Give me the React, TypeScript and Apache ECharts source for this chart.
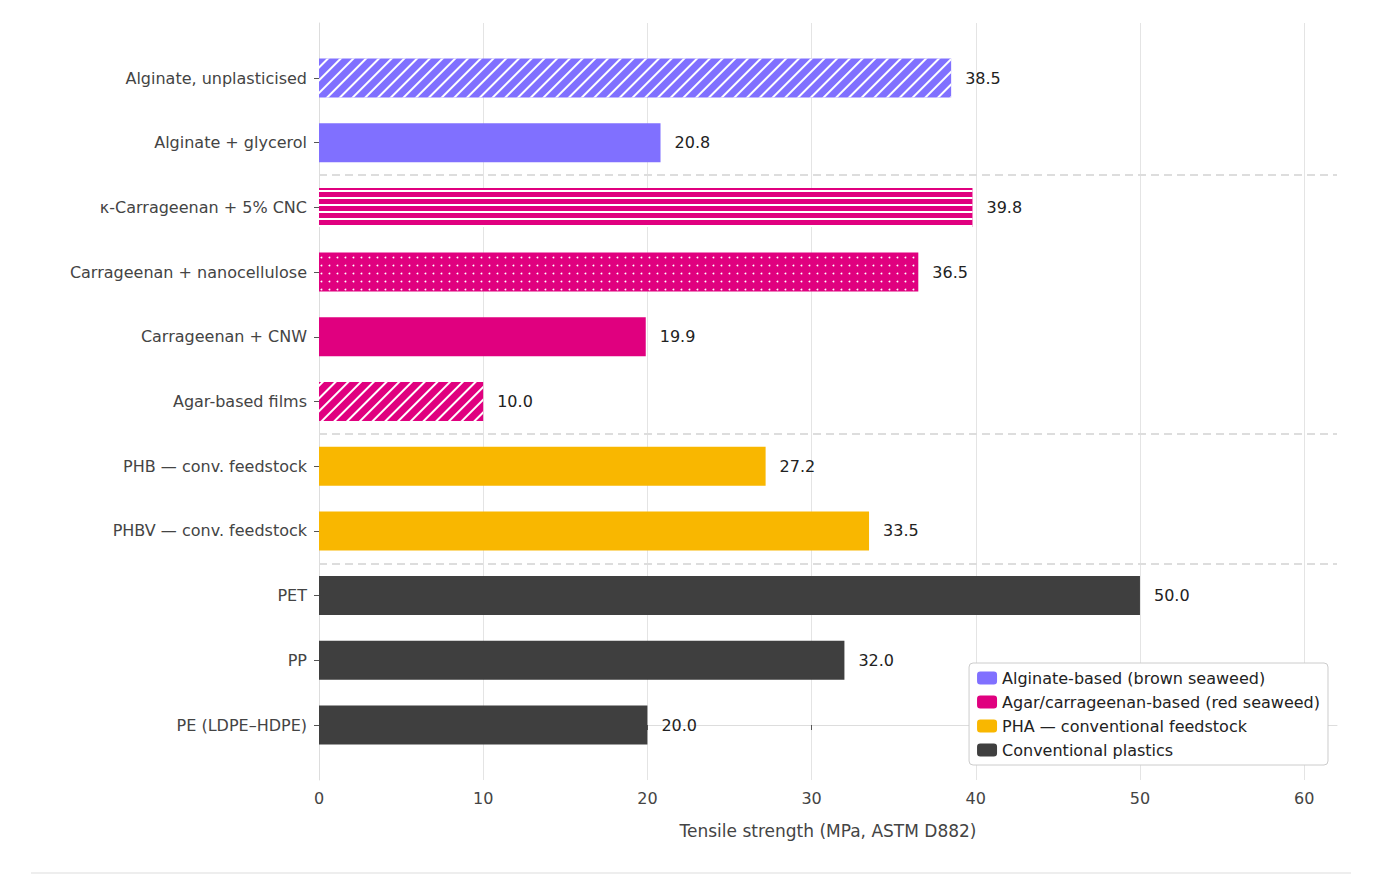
import { useEffect, useRef } from "react";
import * as echarts from "echarts";

// bottom-to-top order (index 0 = PE)
const categories = [
  "PE (LDPE–HDPE)",
  "PP",
  "PET",
  "PHBV — conv. feedstock",
  "PHB — conv. feedstock",
  "Agar-based films",
  "Carrageenan + CNW",
  "Carrageenan + nanocellulose",
  "κ-Carrageenan + 5% CNC",
  "Alginate + glycerol",
  "Alginate, unplasticised",
];
const alginateValues: Array<[number, number, string]> = [
  [38.5, 10, "hatch"],
  [20.8, 9, "none"],
];
const redValues: Array<[number, number, string]> = [
  [39.8, 8, "lines"],
  [36.5, 7, "dots"],
  [19.9, 6, "none"],
  [10.0, 5, "hatch"],
];
const phaValues: Array<[number, number, string]> = [
  [27.2, 4, "none"],
  [33.5, 3, "none"],
];
const plasticValues: Array<[number, number, string]> = [
  [50.0, 2, "none"],
  [32.0, 1, "none"],
  [20.0, 0, "none"],
];
const groupNames = [
  "Alginate-based (brown seaweed)",
  "Agar/carrageenan-based (red seaweed)",
  "PHA — conventional feedstock",
  "Conventional plastics",
];
const groupColors = ["#8070FF", "#E0007F", "#F9B700", "#3F3F3F"];
const separators = [8.5, 4.5, 2.5];
const xTicks = [0, 10, 20, 30, 40, 50, 60];

const decals: Record<string, object | undefined> = {
  none: undefined,
  hatch: {
    symbol: "rect",
    color: "#ffffff",
    dashArrayX: [1, 0],
    dashArrayY: [2, 7],
    rotation: -Math.PI / 4,
  },
  lines: {
    symbol: "rect",
    color: "#ffffff",
    dashArrayX: [1, 0],
    dashArrayY: [2, 5],
    rotation: 0,
  },
  dots: {
    symbol: "circle",
    color: "#ffffff",
    symbolSize: 0.6,
    dashArrayX: [3, 5],
    dashArrayY: [3, 5],
    rotation: 0,
  },
};

const FONT = "DejaVu Sans";

export default function App() {
  const ref = useRef<HTMLDivElement | null>(null);

  useEffect(() => {
    const el = ref.current;
    if (el === null) return;
    const chart = echarts.init(el, null, { renderer: "svg" });
    const groups = [alginateValues, redValues, phaValues, plasticValues];

    const barSeries = groups.map((g, gi) => {
      const data: Array<unknown> = categories.map(() => "-");
      g.forEach(([v, idx, pat]) => {
        data[idx] = {
          value: v,
          itemStyle: decals[pat] ? { decal: decals[pat] } : {},
        };
      });
      return {
        name: groupNames[gi],
        type: "bar",
        xAxisIndex: 0,
        yAxisIndex: 0,
        barWidth: 39,
        barGap: "-100%",
        color: groupColors[gi],
        itemStyle: { color: groupColors[gi] },
        label: {
          show: true,
          position: "right",
          distance: 14,
          fontSize: 16,
          color: "#222",
          fontFamily: FONT,
          formatter: (p: { value: number }) => Number(p.value).toFixed(1),
        },
        data,
      };
    });

    chart.setOption({
      animation: false,
      textStyle: { fontFamily: FONT },
      grid: [
        { left: 311, right: 51, top: 37.65, bottom: 125.65 },
        { left: 311, right: 51, top: 15, bottom: 103 },
      ],
      legend: {
        orient: "vertical",
        right: 60,
        top: 655,
        itemWidth: 20,
        itemHeight: 13,
        itemGap: 8,
        padding: [7, 8, 7, 8],
        borderColor: "#cccccc",
        borderWidth: 1,
        borderRadius: 4,
        backgroundColor: "#ffffff",
        textStyle: { fontSize: 16, color: "#222", fontFamily: FONT },
        data: groupNames,
      },
      xAxis: [
        {
          gridIndex: 0,
          type: "value",
          min: 0,
          max: 62,
          show: false,
        },
        {
          gridIndex: 1,
          type: "value",
          min: 0,
          max: 62,
          interval: 10,
          axisLabel: {
            customValues: xTicks,
            fontSize: 16,
            color: "#444",
            margin: 10,
          },
          axisTick: { show: true, customValues: xTicks, length: 5, lineStyle: { color: "#555" } },
          axisLine: { show: true, lineStyle: { color: "#dddddd" } },
          splitLine: { show: true, lineStyle: { color: "#e4e4e4" } },
          name: "Tensile strength (MPa, ASTM D882)",
          nameLocation: "middle",
          nameGap: 42,
          nameTextStyle: { fontSize: 17, color: "#444" },
        },
      ],
      yAxis: [
        {
          gridIndex: 0,
          type: "category",
          data: categories,
          axisLabel: { fontSize: 16, color: "#444", margin: 12 },
          axisTick: { show: true, alignWithLabel: true, length: 5, lineStyle: { color: "#555" } },
          axisLine: { show: false },
          splitLine: { show: false },
        },
        {
          gridIndex: 1,
          type: "value",
          min: -0.85,
          max: 10.85,
          axisLabel: { show: false },
          axisTick: { show: false },
          axisLine: { show: true, lineStyle: { color: "#dddddd" } },
          splitLine: { show: false },
        },
      ],
      series: [
        {
          type: "scatter",
          xAxisIndex: 1,
          yAxisIndex: 1,
          symbolSize: 0,
          silent: true,
          z: 1,
          data: [[0, 0]],
          markLine: {
            silent: true,
            symbol: "none",
            label: { show: false },
            lineStyle: { color: "#dddddd", type: [8, 5], width: 2 },
            data: separators.map((s) => ({ yAxis: s })),
          },
        },
        ...barSeries,
      ],
      graphic: [
        {
          type: "line",
          shape: { x1: 23, y1: 865, x2: 1343, y2: 865 },
          style: { stroke: "#dddddd", lineWidth: 1 },
        },
      ],
    });

    return () => chart.dispose();
  }, []);

  return <div ref={ref} style={{ width: 1380, height: 875 }} />;
}
